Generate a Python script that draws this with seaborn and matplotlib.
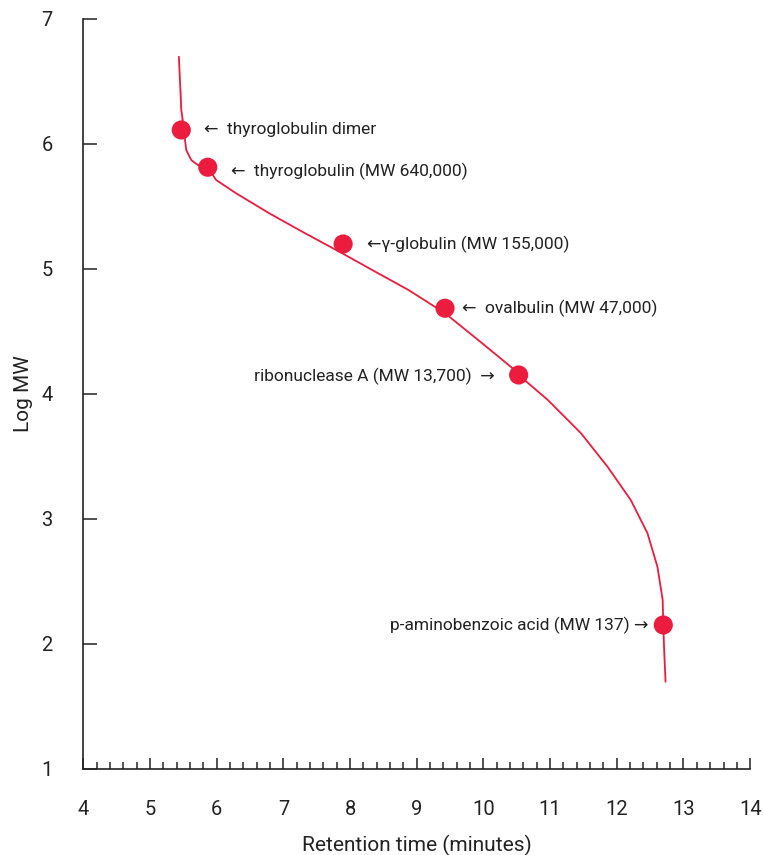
import matplotlib
matplotlib.use("Agg")
import matplotlib.pyplot as plt
import seaborn as sns
import pandas as pd
from matplotlib.ticker import MultipleLocator

# Calibration curve
curve_time = [5.433, 5.469, 5.484, 5.469, 5.543, 5.618, 5.716, 5.866, 5.991, 6.290,
              6.787, 7.284, 7.881, 8.379, 8.876, 9.424, 9.921, 10.469, 10.528, 10.966,
              11.463, 11.861, 12.209, 12.460, 12.609, 12.688, 12.697, 12.710, 12.731]
curve_logmw = [6.698, 6.432, 6.218, 6.112, 5.952, 5.872, 5.832, 5.814, 5.712, 5.606,
               5.446, 5.298, 5.126, 4.978, 4.832, 4.646, 4.432, 4.192, 4.152, 3.952,
               3.686, 3.418, 3.152, 2.886, 2.618, 2.352, 2.152, 1.952, 1.698]

# Standards
std_names = ["thyroglobulin dimer", "thyroglobulin (MW 640,000)", "γ-globulin (MW 155,000)",
             "ovalbulin (MW 47,000)", "ribonuclease A (MW 13,700)", "p-aminobenzoic acid (MW 137)"]
std_time = [5.469, 5.866, 7.896, 9.424, 10.528, 12.697]
std_logmw = [6.112, 5.814, 5.200, 4.686, 4.152, 2.152]

x_ticks = [4, 5, 6, 7, 8, 9, 10, 11, 12, 13, 14]
y_ticks = [1, 2, 3, 4, 5, 6, 7]

sns.set_style("ticks")
plt.rcParams['font.family'] = ['Roboto', 'DejaVu Sans']

RED = "#EC1C3F"
TXT = "#222222"

fig = plt.figure(figsize=(7.63, 8.55), dpi=100)
ax = fig.add_axes([0.1092, 0.1006, 0.874, 0.8772])

curve_df = pd.DataFrame({"t": curve_time, "m": curve_logmw})
std_df = pd.DataFrame({"t": std_time, "m": std_logmw, "name": std_names})

sns.lineplot(data=curve_df, x="t", y="m", sort=False, color=RED, lw=1.3, ax=ax, zorder=2,
             solid_joinstyle="round")
sns.scatterplot(data=std_df, x="t", y="m", color=RED, s=190, edgecolor="none", ax=ax, zorder=3)

ax.set_xlim(4, 14)
ax.set_ylim(1, 7)
ax.set_xticks(x_ticks)
ax.set_yticks(y_ticks)
ax.xaxis.set_minor_locator(MultipleLocator(0.2))
ax.tick_params(axis="x", which="major", direction="in", length=8, width=1.1, pad=22,
               labelsize=14.5, colors=TXT)
ax.tick_params(axis="x", which="minor", direction="in", length=5, width=1.1)
ax.tick_params(axis="y", which="major", direction="in", length=10, width=1.1, pad=22,
               labelsize=14.5, colors=TXT)
for s in ["top", "right"]:
    ax.spines[s].set_visible(False)
for s in ["left", "bottom"]:
    ax.spines[s].set_linewidth(1.2)
    ax.spines[s].set_color(TXT)

ax.set_xlabel("Retention time (minutes)", fontsize=15, color=TXT, labelpad=12)
ax.set_ylabel("Log MW", fontsize=15, color=TXT, labelpad=6)

# label offsets in points (dx, dy), alignment
offsets = [(16, 0, "left", "←  "), (17, -3, "left", "←  "), (17, 0, "left", "←"),
           (12, 0, "left", "←  "), (-17, -1, "right", "  →"), (-11, 0, "right", " →")]
for name, t, m, (dx, dy, ha, arrow) in zip(std_names, std_time, std_logmw, offsets):
    label = arrow + name if ha == "left" else name + arrow
    ax.annotate(label, (t, m), xytext=(dx, dy), textcoords="offset points",
                ha=ha, va="center", fontsize=12.5, color=TXT)

fig.savefig("out.png", dpi=100)
